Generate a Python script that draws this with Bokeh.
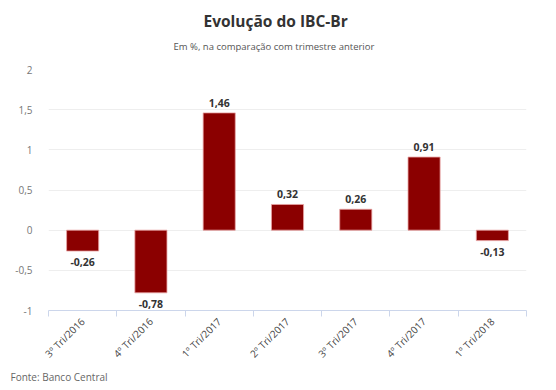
from bokeh.plotting import figure
from bokeh.models import Range1d, FixedTicker, Title, ColumnDataSource
from bokeh.embed import file_html
from bokeh.resources import INLINE
from bokeh.core.properties import value
import math

categories = ["3º Tri/2016", "4º Tri/2016", "1º Tri/2017", "2º Tri/2017",
              "3º Tri/2017", "4º Tri/2017", "1º Tri/2018"]
values = [-0.26, -0.78, 1.46, 0.32, 0.26, 0.91, -0.13]
y_ticks = [-1, -0.5, 0, 0.5, 1, 1.5, 2]
y_tick_labels = ["-1", "-0,5", "0", "0,5", "1", "1,5", "2"]

FONT = "Open Sans"
n = len(categories)
idx = list(range(n))

p = figure(width=556, height=390, output_backend="svg", toolbar_location=None,
           x_range=Range1d(-0.5, n - 0.5), y_range=Range1d(-1, 2),
           min_border_left=48, min_border_right=30, min_border_top=69,
           min_border_bottom=80, title=None)
p.outline_line_color = None
p.background_fill_color = "white"
p.border_fill_color = "white"

src = ColumnDataSource(dict(
    x=idx, top=values,
    label=[f"{v:.2f}".replace(".", ",") for v in values],
    yoff=[-6 if v >= 0 else 7 for v in values],
    base=["bottom" if v >= 0 else "top" for v in values],
))
p.vbar(x="x", top="top", bottom=0, width=0.47, source=src,
       fill_color="#8b0000", line_color="#e9a3a3", line_width=0.8)
p.text(x="x", y="top", text="label", source=src, y_offset="yoff",
       text_baseline="base", text_align="center",
       text_font=value(FONT), text_font_size="10.5px", text_font_style="bold",
       text_color="#333333")

# axes
xa = p.xaxis[0]
xa.ticker = FixedTicker(ticks=idx, minor_ticks=[i - 0.5 for i in range(n + 1)])
xa.major_label_overrides = {i: c for i, c in enumerate(categories)}
xa.major_label_orientation = math.pi / 4
xa.major_tick_line_color = None
xa.minor_tick_line_color = "#ccd6eb"
xa.minor_tick_out = 6
xa.minor_tick_in = 0
xa.axis_line_color = "#ccd6eb"
xa.major_label_text_font = FONT
xa.major_label_text_font_size = "10px"
xa.major_label_text_color = "#444444"
xa.major_label_standoff = 3

ya = p.yaxis[0]
ya.ticker = FixedTicker(ticks=y_ticks)
ya.major_label_overrides = {t: l for t, l in zip(y_ticks, y_tick_labels)}
ya.axis_line_color = None
ya.major_tick_line_color = None
ya.minor_tick_line_color = None
ya.major_label_text_font = FONT
ya.major_label_text_font_size = "10px"
ya.major_label_text_color = "#777777"
ya.major_label_standoff = 10

p.xgrid.grid_line_color = None
p.ygrid.grid_line_color = "#eeeeee"
p.ygrid.ticker = FixedTicker(ticks=y_ticks)

# titles
p.add_layout(Title(text="Em %, na comparação com trimestre anterior", align="left",
                   text_font=FONT, text_font_size="9.5px", text_font_style="normal",
                   text_color="#555555", offset=125, standoff=34), "above")
p.add_layout(Title(text="Evolução do IBC-Br", align="left",
                   text_font=FONT, text_font_size="15.5px", text_font_style="bold",
                   text_color="#333333", offset=155, standoff=-23), "above")
p.add_layout(Title(text="Fonte: Banco Central", align="left",
                   text_font=FONT, text_font_size="10px", text_font_style="normal",
                   text_color="#666666", offset=-38, standoff=-2), "below")

open("out.html", "w").write(file_html(p, INLINE))
